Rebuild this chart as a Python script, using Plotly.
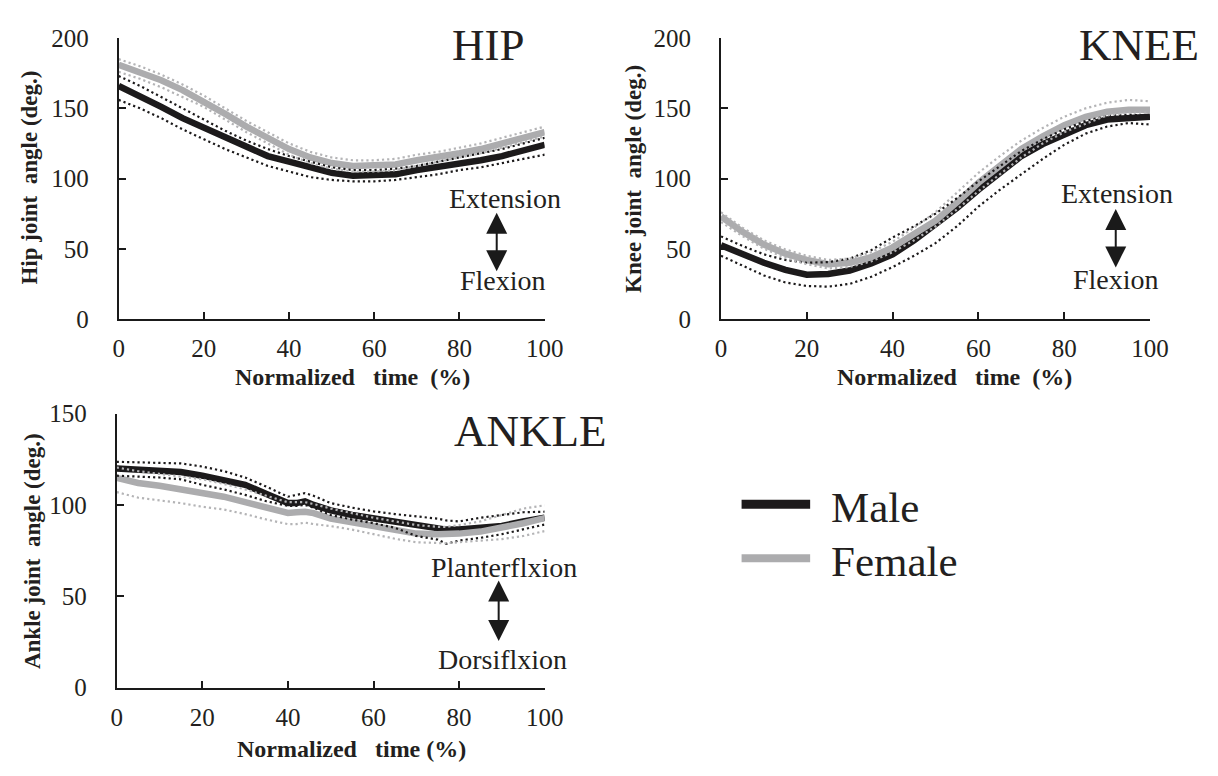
import plotly.graph_objects as go

# ---------------- data ----------------
T = [0, 5, 10, 15, 20, 25, 30, 35, 40, 45, 50, 55, 60, 65, 70, 75, 80, 85, 90, 95, 100]
X_TICKS = [0, 20, 40, 60, 80, 100]

hip_male_mean = [166, 159, 151, 143, 136, 129, 122, 116, 112, 108, 104, 102, 102, 103, 106, 108, 111, 113, 116, 120, 124]
hip_male_upper = [173, 166, 158, 150, 142, 134, 127, 121, 116, 112, 108, 106, 106, 107, 109, 112, 115, 118, 121, 125, 129]
hip_male_lower = [156, 150, 143, 135, 128, 121, 115, 109, 105, 101, 99, 98, 98, 99, 101, 103, 106, 108, 111, 114, 117]
hip_female_mean = [181, 176, 170, 163, 155, 146, 137, 129, 121, 115, 111, 109, 109, 110, 113, 115, 118, 121, 125, 129, 133]
hip_female_upper = [185, 180, 174, 167, 159, 150, 141, 133, 125, 119, 115, 113, 113, 114, 117, 119, 122, 125, 129, 133, 137]
hip_female_lower = [176, 171, 165, 158, 151, 142, 133, 125, 117, 111, 107, 105, 105, 106, 109, 112, 115, 118, 122, 126, 130]

knee_male_mean = [52.5, 46, 40, 35, 31.5, 32, 34.5, 39.5, 46, 56, 67, 79, 92, 104, 116, 124.5, 131.5, 138, 142, 143.5, 144]
knee_male_upper = [58.8, 52, 46, 42, 40, 40.5, 43, 49, 58, 66, 75, 86, 98, 109, 119.6, 128, 135, 141, 144.5, 145.5, 144.5]
knee_male_lower = [45, 38, 31, 26, 23.5, 23, 25, 30, 37, 45, 54, 66, 80, 92, 103, 114, 124, 132, 137, 139.5, 138.5]
knee_female_mean = [73, 62, 53, 46.5, 42, 39, 40, 44, 51, 60, 70, 83, 97, 109, 121, 130, 138, 144, 147.5, 149, 149]
knee_female_upper = [76, 65, 56, 49.5, 45, 42, 43, 47.5, 55, 65, 76, 90, 104, 116, 127, 136, 144, 150, 154, 156, 155]
knee_female_lower = [69, 59, 50, 43.5, 39, 36, 37, 41, 47.5, 56, 66, 78, 91, 103, 115, 125, 133, 139, 145, 147, 147]

T_ANKLE = [0, 5, 10, 15, 20, 25, 30, 35, 40, 42, 44, 46, 50, 55, 60, 65, 70, 75, 77, 80, 85, 90, 95, 100]
ankle_male_mean = [120, 119.5, 118.5, 118, 116, 113.5, 111, 106, 101, 101, 102, 100, 97, 94.5, 92.8, 90.5, 89, 87.5, 86.5, 86.5, 87.5, 88.5, 91, 93]
ankle_male_upper = [123.6, 123.2, 123, 122.7, 121, 118.5, 115, 110, 104.5, 105.5, 106.5, 105, 101, 98.5, 96.5, 95, 93.7, 92.5, 91.5, 91, 93, 94.5, 96, 96.3]
ankle_male_lower = [116, 115.5, 115, 114, 111, 108.5, 105.5, 102, 99.5, 99.5, 100, 98.5, 94.5, 92, 90, 87.5, 83, 81, 78.7, 80.5, 82, 84, 86.5, 89.3]
ankle_female_mean = [114.8, 112, 110.5, 108.5, 106, 104.5, 101.5, 98.5, 95.6, 96, 96.3, 95.5, 92.5, 90.5, 88.4, 85.5, 84.3, 84, 84, 84.3, 85.4, 87.5, 90, 92.8]
ankle_female_upper = [120.5, 118.5, 117, 115.5, 114, 111.5, 108.5, 105, 101.5, 101.5, 101.5, 100.5, 98, 95.5, 93, 91, 89, 88, 88, 89, 91, 94.5, 98, 99.8]
ankle_female_lower = [107, 104, 102.5, 101, 99, 97.5, 95, 92, 89.5, 89.5, 90.3, 89.5, 88.4, 86.5, 84, 81.5, 79.6, 79, 79, 79.6, 80.5, 81.3, 83, 85.7]

PANEL_TITLES = ["HIP", "KNEE", "ANKLE"]
Y_TITLES = ["Hip joint  angle (deg.)", "Knee joint  angle (deg.)", "Ankle joint  angle (deg.)"]
X_TITLES = ["Normalized\u00a0\u00a0 time\u00a0\u00a0(%)", "Normalized\u00a0\u00a0 time\u00a0\u00a0(%)", "Normalized\u00a0\u00a0 time (%)"]
DIRECTION_LABELS = [("Extension", "Flexion"), ("Extension", "Flexion"), ("Planterflxion", "Dorsiflxion")]
LEGEND_NAMES = ["Male", "Female"]

# ---------------- style ----------------
W, H = 1218, 776
FONT = "Liberation Serif"
TXT = "#231f20"
MALE_C = "#1c1a1b"
FEMALE_C = "#acacae"
FEMALE_DOT = "#b4b4b6"
MEAN_W = 6.5
DOT_W = 2.2
DOT_DASH = "2.2px,3px"


def px(x):
    return x / W


def py(y):
    return 1 - y / H


fig = go.Figure()

panels = [
    ("x", "y", T, hip_male_mean, hip_male_upper, hip_male_lower, hip_female_mean, hip_female_upper, hip_female_lower),
    ("x2", "y2", T, knee_male_mean, knee_male_upper, knee_male_lower, knee_female_mean, knee_female_upper, knee_female_lower),
    ("x3", "y3", T_ANKLE, ankle_male_mean, ankle_male_upper, ankle_male_lower, ankle_female_mean, ankle_female_upper, ankle_female_lower),
]

for xa, ya, t, mm, mu, ml, fm, fu, fl in panels:
    fig.add_trace(go.Scatter(x=t, y=mm, mode="lines", xaxis=xa, yaxis=ya, showlegend=False,
                             line=dict(color=MALE_C, width=MEAN_W)))
    fig.add_trace(go.Scatter(x=t, y=fm, mode="lines", xaxis=xa, yaxis=ya, showlegend=False,
                             line=dict(color=FEMALE_C, width=MEAN_W)))
    for s in (mu, ml):
        fig.add_trace(go.Scatter(x=t, y=s, mode="lines", xaxis=xa, yaxis=ya, showlegend=False,
                                 line=dict(color=MALE_C, width=DOT_W, dash=DOT_DASH)))
    for s in (fu, fl):
        fig.add_trace(go.Scatter(x=t, y=s, mode="lines", xaxis=xa, yaxis=ya, showlegend=False,
                                 line=dict(color=FEMALE_DOT, width=DOT_W, dash=DOT_DASH)))

axis_common = dict(showgrid=False, zeroline=False, showline=True, linecolor="#1a1a1a", linewidth=2,
                   ticks="inside", ticklen=7, tickwidth=1.5, tickcolor="#1a1a1a",
                   tickfont=dict(family=FONT, size=25, color=TXT), fixedrange=True)

# panel geometry in pixels: (x_left, x_right, y_bottom, y_top, ymax)
geo = [(115, 550, 317, 26, 200), (730, 1168, 317, 26, 200), (113, 550, 699, 415, 150)]

layout_axes = {}
for i, (xl, xr, yb, yt, ymax) in enumerate(geo):
    sfx = "" if i == 0 else str(i + 1)
    layout_axes["xaxis" + sfx] = dict(axis_common, domain=[px(xl), px(xr)], anchor="y" + sfx,
                                      range=[0, 100], tickvals=X_TICKS, ticklabelstandoff=6)
    layout_axes["yaxis" + sfx] = dict(axis_common, domain=[py(yb), py(yt)], anchor="x" + sfx,
                                      range=[0, ymax], dtick=50, ticklabelstandoff=23)

fig.update_layout(**layout_axes)

ann = []
# panel titles
title_pos = [(493, 33), (1157, 33), (535, 433)]
for (x, y), txt in zip(title_pos, PANEL_TITLES):
    ann.append(dict(x=px(x), y=py(y), xref="paper", yref="paper", text=txt, showarrow=False,
                    xanchor="center", yanchor="middle", font=dict(family=FONT, size=45, color=TXT)))

# axis titles
xt_pos = [(354, 377), (968, 377), (353, 763)]
for (x, y), txt in zip(xt_pos, X_TITLES):
    ann.append(dict(x=px(x), y=py(y), xref="paper", yref="paper", text="<b>" + txt + "</b>", showarrow=False,
                    xanchor="center", yanchor="middle", font=dict(family=FONT, size=24, color=TXT)))
yt_pos = [(24, 171), (640, 172), (27, 557)]
for (x, y), txt in zip(yt_pos, Y_TITLES):
    ann.append(dict(x=px(x), y=py(y), xref="paper", yref="paper", text="<b>" + txt.replace("  ", "\u00a0 ") + "</b>",
                    showarrow=False, textangle=-90, xanchor="center", yanchor="middle",
                    font=dict(family=FONT, size=23, color=TXT)))

# direction labels and arrows
dir_pos = [((509, 192), (507, 277), (501, 207, 267)),
           ((1134, 187), (1133, 276), (1133, 203, 263)),
           ((508, 574), (507, 670), (503, 588, 650))]
for (top, bot, arr), (lt, lb) in zip(dir_pos, DIRECTION_LABELS):
    ann.append(dict(x=px(top[0]), y=py(top[1]), xref="paper", yref="paper", text=lt, showarrow=False,
                    xanchor="center", yanchor="middle", font=dict(family=FONT, size=28, color=TXT)))
    ann.append(dict(x=px(bot[0]), y=py(bot[1]), xref="paper", yref="paper", text=lb, showarrow=False,
                    xanchor="center", yanchor="middle", font=dict(family=FONT, size=28, color=TXT)))
    ann.append(dict(x=px(arr[0]), y=py(arr[1]), xref="paper", yref="paper", text="", showarrow=True,
                    ax=0, ay=arr[2] - arr[1], axref="pixel", ayref="pixel",
                    arrowhead=2, arrowside="end+start", arrowsize=2.1, arrowwidth=2, arrowcolor="#1a1a1a"))

# legend (drawn manually)
leg = [(509, MALE_C, 9), (565, FEMALE_C, 8)]
shapes = []
for (y, c, w), name in zip(leg, LEGEND_NAMES):
    shapes.append(dict(type="line", xref="paper", yref="paper", x0=px(751), x1=px(821), y0=py(y), y1=py(y),
                       line=dict(color=c, width=w)))
    ann.append(dict(x=px(840), y=py(y + 3), xref="paper", yref="paper", text=name, showarrow=False,
                    xanchor="left", yanchor="middle", font=dict(family=FONT, size=43, color=TXT)))

fig.update_layout(annotations=ann, shapes=shapes, width=W, height=H,
                  margin=dict(l=0, r=0, t=0, b=0), paper_bgcolor="white", plot_bgcolor="white")

fig.write_html("out.html")
